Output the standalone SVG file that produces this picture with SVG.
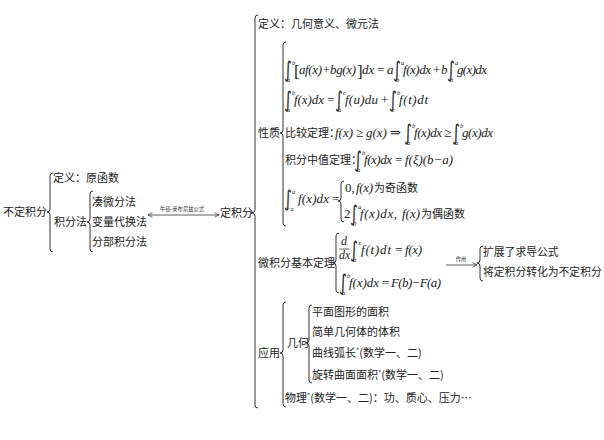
<svg xmlns="http://www.w3.org/2000/svg" width="604" height="440" viewBox="0 0 604 440">
<defs>
<style>
.t{font-family:"Noto Sans CJK SC","Noto Sans",sans-serif;font-size:11px;fill:#222}
.s{font-family:"Noto Sans CJK SC","Noto Sans",sans-serif;font-size:5.3px;fill:#333}
.m{font-family:"Liberation Serif","DejaVu Serif",serif;font-style:italic;font-size:13px;fill:#222}
.n{font-family:"Liberation Serif","DejaVu Serif",serif;font-size:13px;fill:#222}
.i{font-family:"DejaVu Sans",sans-serif;font-size:15px;fill:#222}
.l{font-family:"Liberation Serif","DejaVu Serif",serif;font-style:italic;font-size:6.5px;fill:#222}
.b{font-family:"Liberation Serif","DejaVu Serif",serif;font-size:17px;fill:#222}
.br{fill:none;stroke:#333;stroke-width:1}
.ar{fill:none;stroke:#333;stroke-width:0.8}
</style>
<marker id="ah" viewBox="0 0 10 10" refX="9" refY="5" markerWidth="7" markerHeight="7" orient="auto-start-reverse">
<path d="M1,1 L9,5 L1,9" fill="none" stroke="#333" stroke-width="1.3"/>
</marker>
</defs>
<rect width="604" height="440" fill="#fff"/>

<g id="connectors">
<path class="br" d="M53,173 Q50,173 50,176 L50,209 Q50,212 47,212 Q50,212 50,215 L50,249 Q50,252 53,252"/>
<path class="br" d="M93,191 Q90,191 90,194 L90,219 Q90,222 87,222 Q90,222 90,225 L90,249 Q90,252 93,252"/>
<path class="br" d="M258,15 Q255,15 255,18 L255,210 Q255,213 251,213 Q255,213 255,216 L255,405 Q255,408 258,408"/>
<path class="br" d="M286,42 Q283,42 283,45 L283,130 Q283,133 280,133 Q283,133 283,136 L283,223 Q283,226 286,226"/>
<path class="br" d="M344,181 Q341,181 341,184 L341,198 Q341,201 338,201 Q341,201 341,204 L341,219 Q341,222 344,222"/>
<path class="br" d="M339,233 Q336,233 336,236 L336,260 Q336,263 333,263 Q336,263 336,266 L336,290 Q336,293 339,293"/>
<path class="br" d="M483,246 Q480,246 480,249 L480,260 Q480,263 477,263 Q480,263 480,266 L480,278 Q480,281 483,281"/>
<path class="br" d="M286,302 Q283,302 283,305 L283,350 Q283,353 280,353 Q283,353 283,356 L283,404 Q283,407 286,407"/>
<path class="br" d="M312,305 Q309,305 309,308 L309,340 Q309,343 306,343 Q309,343 309,346 L309,380 Q309,383 312,383"/>
<line class="ar" x1="148" y1="215" x2="219" y2="215" marker-start="url(#ah)" marker-end="url(#ah)"/>
<text class="s" x="182" y="211" text-anchor="middle">牛顿-莱布尼兹公式</text>
<line class="ar" x1="446" y1="265" x2="477" y2="265" marker-end="url(#ah)"/>
<text class="s" x="461" y="261" text-anchor="middle">作用</text>
</g>

<g id="n-budingjifen"><text class="t" x="3" y="216">不定积分</text></g>
<g id="n-yuanhanshu"><text class="t" x="53" y="182">定义：原函数</text></g>
<g id="n-jifenfa"><text class="t" x="54" y="226">积分法</text></g>
<g id="n-couweifen"><text class="t" x="92" y="206">凑微分法</text></g>
<g id="n-bianliang"><text class="t" x="92" y="226">变量代换法</text></g>
<g id="n-fenbu"><text class="t" x="92" y="246">分部积分法</text></g>
<g id="n-dingjifen"><text class="t" x="220" y="217">定积分</text></g>
<g id="n-dingyi"><text class="t" x="258" y="28">定义：几何意义、微元法</text></g>
<g id="n-xingzhi"><text class="t" x="258" y="137">性质</text></g>

<g id="n-f1">
<text class="i" transform="translate(284,76.5) scale(1,1.45)">∫</text><text class="l" x="292" y="64.5">b</text><text class="l" x="287" y="82">a</text>
<text class="b" x="294" y="77">[</text>
<text class="m" x="299" y="74" textLength="57" lengthAdjust="spacing">af(x)+bg(x)</text>
<text class="b" x="357" y="77">]</text>
<text class="m" x="362" y="74">dx</text>
<text class="n" x="377" y="74">=</text>
<text class="m" x="387" y="74">a</text>
<text class="i" transform="translate(393,76.5) scale(1,1.45)">∫</text><text class="l" x="401" y="64.5">a</text><text class="l" x="396" y="82">b</text>
<text class="m" x="403" y="74" textLength="28" lengthAdjust="spacing">f(x)dx</text>
<text class="n" x="433" y="74">+</text>
<text class="m" x="441" y="74">b</text>
<text class="i" transform="translate(447,76.5) scale(1,1.45)">∫</text><text class="l" x="455" y="64.5">a</text><text class="l" x="450" y="82">b</text>
<text class="m" x="457" y="74" textLength="30" lengthAdjust="spacing">g(x)dx</text>
</g>

<g id="n-f2">
<text class="i" transform="translate(284,106.5) scale(1,1.45)">∫</text><text class="l" x="292" y="94.5">b</text><text class="l" x="287" y="112">a</text>
<text class="m" x="294" y="104" textLength="30" lengthAdjust="spacing">f(x)dx</text>
<text class="n" x="327" y="104">=</text>
<text class="i" transform="translate(335,106.5) scale(1,1.45)">∫</text><text class="l" x="343" y="94.5">c</text><text class="l" x="338" y="112">a</text>
<text class="m" x="345" y="104" textLength="33" lengthAdjust="spacing">f(u)du</text>
<text class="n" x="381" y="104">+</text>
<text class="i" transform="translate(389,106.5) scale(1,1.45)">∫</text><text class="l" x="397" y="94.5">b</text><text class="l" x="392" y="112">c</text>
<text class="m" x="399" y="104" textLength="29" lengthAdjust="spacing">f(t)dt</text>
</g>

<g id="n-bijiao">
<text class="t" x="285" y="137">比较定理：</text>
<text class="m" x="335" y="137">f(x)</text>
<text class="n" x="356" y="137">≥</text>
<text class="m" x="366" y="137">g(x)</text>
<text class="n" x="390" y="137">⇒</text>
<text class="i" transform="translate(404,139.5) scale(1,1.45)">∫</text><text class="l" x="412" y="127.5">b</text><text class="l" x="407" y="145">a</text>
<text class="m" x="414" y="137" textLength="28" lengthAdjust="spacing">f(x)dx</text>
<text class="n" x="444" y="137">≥</text>
<text class="i" transform="translate(452,139.5) scale(1,1.45)">∫</text><text class="l" x="460" y="127.5">b</text><text class="l" x="455" y="145">a</text>
<text class="m" x="462" y="137" textLength="31" lengthAdjust="spacing">g(x)dx</text>
</g>

<g id="n-zhongzhi">
<text class="t" x="285" y="164">积分中值定理：</text>
<text class="i" transform="translate(354,166.5) scale(1,1.45)">∫</text><text class="l" x="362" y="154.5">b</text><text class="l" x="357" y="172">a</text>
<text class="m" x="364" y="164" textLength="28" lengthAdjust="spacing">f(x)dx</text>
<text class="n" x="395" y="164">=</text>
<text class="m" x="405" y="164" textLength="48" lengthAdjust="spacing">f(ξ)(b−a)</text>
</g>

<g id="n-jioudui">
<text class="i" transform="translate(284,205.5) scale(1,1.45)">∫</text><text class="l" x="292" y="193.5">a</text><text class="l" x="286" y="211">−a</text>
<text class="m" x="298" y="203" textLength="31" lengthAdjust="spacing">f(x)dx</text>
<text class="n" x="332" y="203">=</text>
<text class="n" x="345" y="192">0,</text>
<text class="m" x="356" y="192" textLength="17" lengthAdjust="spacing">f(x)</text>
<text class="t" x="374" y="192">为奇函数</text>
<text class="n" x="344" y="218">2</text>
<text class="i" transform="translate(350,220.5) scale(1,1.45)">∫</text><text class="l" x="358" y="208.5">a</text><text class="l" x="353" y="226">0</text>
<text class="m" x="360" y="218" textLength="37" lengthAdjust="spacing">f(x)dx,</text>
<text class="m" x="402" y="218" textLength="18" lengthAdjust="spacing">f(x)</text>
<text class="t" x="421" y="218">为偶函数</text>
</g>

<g id="n-jiben"><text class="t" x="258" y="267">微积分基本定理</text></g>

<g id="n-f6">
<text class="m" x="341" y="245" style="font-size:12px">d</text>
<line x1="339" y1="249" x2="349" y2="249" stroke="#222" stroke-width="0.7"/>
<text class="m" x="339" y="259" style="font-size:12px">dx</text>
<text class="i" transform="translate(350,256.5) scale(1,1.45)">∫</text><text class="l" x="358" y="244.5">x</text><text class="l" x="353" y="262">a</text>
<text class="m" x="361" y="254" textLength="30" lengthAdjust="spacing">f(t)dt</text>
<text class="n" x="395" y="254">=</text>
<text class="m" x="405" y="254" textLength="17" lengthAdjust="spacing">f(x)</text>
</g>

<g id="n-f7">
<text class="i" transform="translate(339,289.5) scale(1,1.45)">∫</text><text class="l" x="347" y="277.5">b</text><text class="l" x="342" y="295">a</text>
<text class="m" x="349" y="287" textLength="30" lengthAdjust="spacing">f(x)dx</text>
<text class="n" x="382" y="287">=</text>
<text class="m" x="391" y="287" textLength="50" lengthAdjust="spacing">F(b)−F(a)</text>
</g>

<g id="n-kuozhan"><text class="t" x="483" y="256" style="font-size:10.8px">扩展了求导公式</text></g>
<g id="n-jiang"><text class="t" x="483" y="276" style="font-size:10.8px">将定积分转化为不定积分</text></g>

<g id="n-yingyong"><text class="t" x="258" y="357">应用</text></g>
<g id="n-jihe"><text class="t" x="287" y="347">几何</text></g>
<g id="n-mianji"><text class="t" x="312" y="316">平面图形的面积</text></g>
<g id="n-tiji"><text class="t" x="312" y="336">简单几何体的体积</text></g>
<g id="n-huchang"><text class="t" x="312" y="357">曲线弧长<tspan font-size="7" dy="-4">*</tspan><tspan dy="4">(数学一、二)</tspan></text></g>
<g id="n-xuanzhuan"><text class="t" x="312" y="379">旋转曲面面积<tspan font-size="7" dy="-4">*</tspan><tspan dy="4">(数学一、二)</tspan></text></g>
<g id="n-wuli"><text class="t" x="285" y="402">物理<tspan font-size="7" dy="-4">*</tspan><tspan dy="4">(数学一、二)：功、质心、压力…</tspan></text></g>
</svg>
